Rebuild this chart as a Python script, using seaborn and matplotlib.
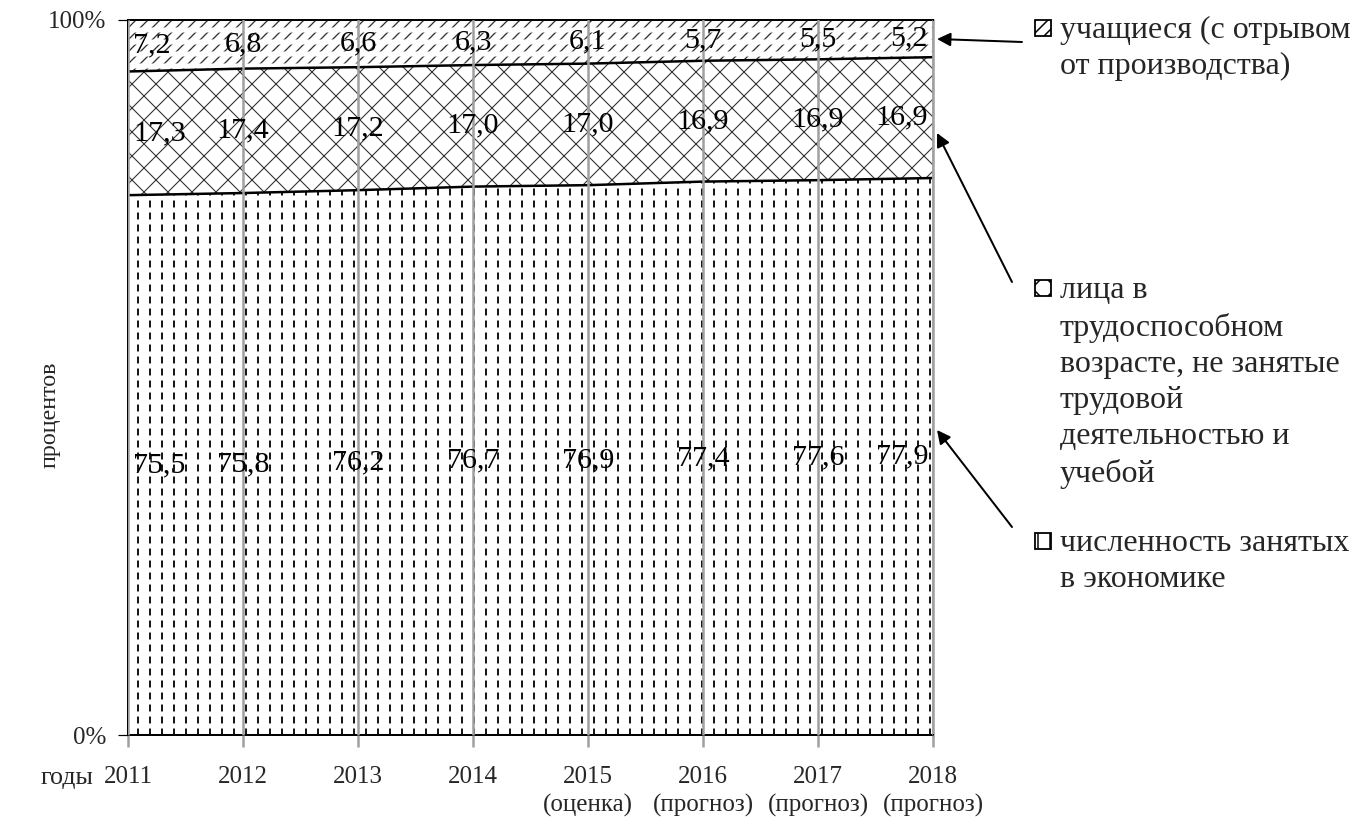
import numpy as np
import pandas as pd
import matplotlib
matplotlib.use('Agg')
import matplotlib.pyplot as plt
import seaborn as sns
from matplotlib.patches import Rectangle

# data (percent of total)
years = ['2011', '2012', '2013', '2014', '2015', '2016', '2017', '2018']
year_notes = ['', '', '', '', '(оценка)', '(прогноз)', '(прогноз)', '(прогноз)']
employed = [75.5, 75.8, 76.2, 76.7, 76.9, 77.4, 77.6, 77.9]
not_working = [17.3, 17.4, 17.2, 17.0, 17.0, 16.9, 16.9, 16.9]
students = [7.2, 6.8, 6.6, 6.3, 6.1, 5.7, 5.5, 5.2]

name_employed = 'численность занятых\nв экономике'
name_not_working = 'лица в\nтрудоспособном\nвозрасте, не занятые\nтрудовой\nдеятельностью и\nучебой'
name_students = 'учащиеся (с отрывом\nот производства)'

sns.set_theme(style='white')
plt.rcParams['font.family'] = ['Liberation Serif', 'DejaVu Serif']
plt.rcParams['hatch.linewidth'] = 1.5

df = pd.DataFrame({'year': years, 'x': np.arange(len(years)),
                   'employed': employed, 'not_working': not_working, 'students': students})
df['b1'] = df['employed']
df['b2'] = df['b1'] + df['not_working']
df['b3'] = df['b2'] + df['students']

W, H = 1355, 825
fig = plt.figure(figsize=(W / 72, H / 72), dpi=72)
ax = fig.add_axes([128 / W, 1 - 735 / H, (933 - 128) / W, (735 - 20) / H])


def hatched(x, lo, hi, hatch, lw=1.5, color='black', cut=None):
    # hatch line width is picked up from rcParams when the artist is created
    with plt.rc_context({'hatch.linewidth': lw}):
        ax.fill_between(x, lo, hi, facecolor='white', edgecolor=color, hatch=hatch, linewidth=0, zorder=1)
    if cut:
        # white stripes over the hatch to break lines into short dashes
        with plt.rc_context({'hatch.linewidth': 5}):
            ax.fill_between(x, lo, hi, facecolor='none', edgecolor='white', hatch=cut, linewidth=0, zorder=1.1)


hatched(df['x'], 0, df['b1'], '|', lw=1.8, cut='-')
hatched(df['x'], df['b1'], df['b2'], 'x', lw=1.1, color='#333333')
hatched(df['x'], df['b2'], df['b3'], '//', lw=1.3, color='#333333', cut='-')

# borders between the areas
sns.lineplot(data=df, x='x', y='b1', color='black', lw=2.5, ax=ax, zorder=2)
sns.lineplot(data=df, x='x', y='b2', color='black', lw=2.5, ax=ax, zorder=2)

# value labels in the middle of each band
n = len(df)
for col, lo in [('employed', None), ('not_working', 'b1'), ('students', 'b2')]:
    for i in range(n):
        base = 0 if lo is None else df[lo][i]
        y = base + df[col][i] / 2
        if i == 0:
            ha, dx = 'left', 5
        elif i == n - 1:
            ha, dx = 'right', -5
        else:
            ha, dx = 'center', 0
        ax.annotate(f'{df[col][i]:.1f}'.replace('.', ','), xy=(df['x'][i], y),
                    xytext=(dx, 0), textcoords='offset points', ha=ha, va='center',
                    fontsize=30, color='black', zorder=3)

ax.set_xlim(0, n - 1)
ax.set_ylim(0, 100)
ax.set_xticks(df['x'])
ax.set_xticklabels([y + ('\n' + s if s else '') for y, s in zip(years, year_notes)],
                   fontsize=25, linespacing=1.35)
ax.set_yticks([0, 100])
ax.set_yticklabels(['0%', '100%'], fontsize=25)
ax.set_xlabel('')
ax.set_ylabel('')
ax.grid(axis='x', color='#a0a0a0', lw=2.5)
ax.grid(axis='y', visible=False)
ax.set_axisbelow(False)
ax.tick_params(axis='x', length=12, width=2.5, color='#a0a0a0', pad=19, direction='out', bottom=True)
ax.tick_params(axis='y', length=10, width=1.2, color='black', pad=12, direction='out', left=True)
for s in ['left', 'bottom', 'top']:
    ax.spines[s].set_color('black')
    ax.spines[s].set_linewidth(2)
ax.spines['right'].set_color('#a0a0a0')
ax.spines['right'].set_linewidth(2.5)

fig.text(50 / W, 1 - 415 / H, 'процентов', rotation=90, ha='center', va='center', fontsize=24)
fig.text(67 / W, 1 - 778 / H, 'годы', ha='center', va='center', fontsize=26)

# right-hand legend with arrows
legend = [(name_students, '//', 28, (1022, 42), (937, 39)),
          (name_not_working, 'x', 288, (1012, 282), (937, 133)),
          (name_employed, '|', 541, (1012, 527), (937, 430))]
for text, hatch, yc, tail, head in legend:
    fig.patches.append(Rectangle((1035 / W, 1 - (yc + 8) / H), 16 / W, 16 / H,
                                 transform=fig.transFigure, facecolor='white',
                                 edgecolor='black', hatch=hatch, lw=1.8))
    fig.text(1060 / W, 1 - (yc - 12) / H, text, ha='left', va='top', fontsize=32, linespacing=1.33)
    ax.annotate('', xy=(head[0], H - head[1]), xycoords='figure pixels',
                xytext=(tail[0], H - tail[1]), textcoords='figure pixels',
                arrowprops=dict(arrowstyle='-|>', mutation_scale=28, lw=2, color='black',
                                shrinkA=0, shrinkB=0))

fig.savefig('out.png', dpi=72)
